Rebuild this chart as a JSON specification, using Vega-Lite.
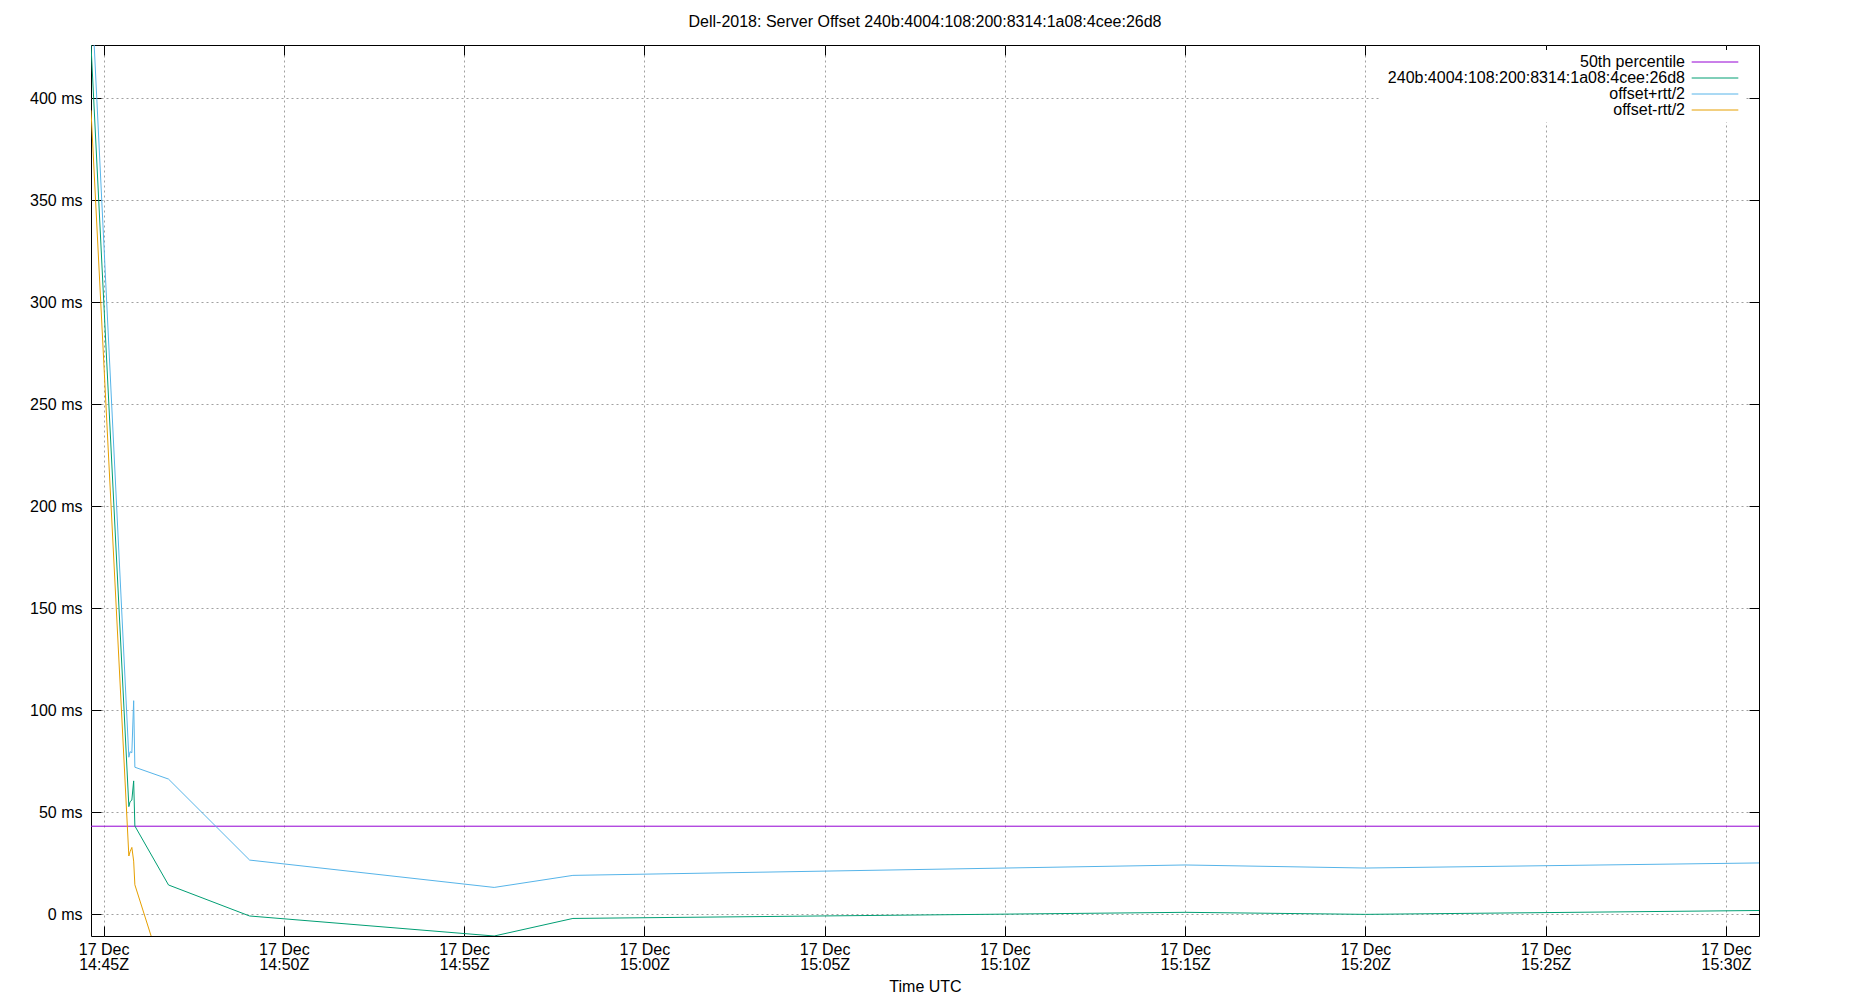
{
  "$schema": "https://vega.github.io/schema/vega-lite/v6.json",
  "width": 1668,
  "height": 891,
  "autosize": {"type": "none"},
  "padding": {"left": 91, "top": 45, "right": 91, "bottom": 64},
  "title": {
    "text": "Dell-2018: Server Offset 240b:4004:108:200:8314:1a08:4cee:26d8",
    "font": "Liberation Sans",
    "fontSize": 16,
    "fontWeight": "normal",
    "color": "#000",
    "frame": "group",
    "anchor": "middle",
    "offset": 15
  },
  "datasets": {
    "samples": [
      {"time": "2023-12-17T14:44:39Z", "series": "240b:4004:108:200:8314:1a08:4cee:26d8", "ms": 426},
      {"time": "2023-12-17T14:45:42Z", "series": "240b:4004:108:200:8314:1a08:4cee:26d8", "ms": 52.8},
      {"time": "2023-12-17T14:45:44Z", "series": "240b:4004:108:200:8314:1a08:4cee:26d8", "ms": 55.2},
      {"time": "2023-12-17T14:45:47Z", "series": "240b:4004:108:200:8314:1a08:4cee:26d8", "ms": 56.0},
      {"time": "2023-12-17T14:45:50Z", "series": "240b:4004:108:200:8314:1a08:4cee:26d8", "ms": 65.4},
      {"time": "2023-12-17T14:45:52Z", "series": "240b:4004:108:200:8314:1a08:4cee:26d8", "ms": 43.3},
      {"time": "2023-12-17T14:46:48Z", "series": "240b:4004:108:200:8314:1a08:4cee:26d8", "ms": 14.4},
      {"time": "2023-12-17T14:49:03Z", "series": "240b:4004:108:200:8314:1a08:4cee:26d8", "ms": -0.8},
      {"time": "2023-12-17T14:55:50Z", "series": "240b:4004:108:200:8314:1a08:4cee:26d8", "ms": -10.6},
      {"time": "2023-12-17T14:58:01Z", "series": "240b:4004:108:200:8314:1a08:4cee:26d8", "ms": -2.0},
      {"time": "2023-12-17T15:15:00Z", "series": "240b:4004:108:200:8314:1a08:4cee:26d8", "ms": 1.0},
      {"time": "2023-12-17T15:20:00Z", "series": "240b:4004:108:200:8314:1a08:4cee:26d8", "ms": 0.0},
      {"time": "2023-12-17T15:30:55Z", "series": "240b:4004:108:200:8314:1a08:4cee:26d8", "ms": 1.9},
      {"time": "2023-12-17T14:44:39Z", "series": "offset+rtt/2", "ms": 458},
      {"time": "2023-12-17T14:45:42Z", "series": "offset+rtt/2", "ms": 77.0},
      {"time": "2023-12-17T14:45:44Z", "series": "offset+rtt/2", "ms": 79.7},
      {"time": "2023-12-17T14:45:47Z", "series": "offset+rtt/2", "ms": 79.2},
      {"time": "2023-12-17T14:45:50Z", "series": "offset+rtt/2", "ms": 104.7},
      {"time": "2023-12-17T14:45:52Z", "series": "offset+rtt/2", "ms": 72.1},
      {"time": "2023-12-17T14:46:48Z", "series": "offset+rtt/2", "ms": 66.3},
      {"time": "2023-12-17T14:49:03Z", "series": "offset+rtt/2", "ms": 26.6},
      {"time": "2023-12-17T14:55:50Z", "series": "offset+rtt/2", "ms": 13.2},
      {"time": "2023-12-17T14:58:01Z", "series": "offset+rtt/2", "ms": 19.1},
      {"time": "2023-12-17T15:15:00Z", "series": "offset+rtt/2", "ms": 24.2},
      {"time": "2023-12-17T15:20:00Z", "series": "offset+rtt/2", "ms": 22.7},
      {"time": "2023-12-17T15:30:55Z", "series": "offset+rtt/2", "ms": 25.2},
      {"time": "2023-12-17T14:44:39Z", "series": "offset-rtt/2", "ms": 394},
      {"time": "2023-12-17T14:45:42Z", "series": "offset-rtt/2", "ms": 28.6},
      {"time": "2023-12-17T14:45:44Z", "series": "offset-rtt/2", "ms": 30.7},
      {"time": "2023-12-17T14:45:47Z", "series": "offset-rtt/2", "ms": 32.8},
      {"time": "2023-12-17T14:45:50Z", "series": "offset-rtt/2", "ms": 26.1},
      {"time": "2023-12-17T14:45:52Z", "series": "offset-rtt/2", "ms": 14.5},
      {"time": "2023-12-17T14:46:48Z", "series": "offset-rtt/2", "ms": -37.5},
      {"time": "2023-12-17T14:49:03Z", "series": "offset-rtt/2", "ms": -28.2},
      {"time": "2023-12-17T14:55:50Z", "series": "offset-rtt/2", "ms": -34.4},
      {"time": "2023-12-17T14:58:01Z", "series": "offset-rtt/2", "ms": -23.1},
      {"time": "2023-12-17T15:15:00Z", "series": "offset-rtt/2", "ms": -22.2},
      {"time": "2023-12-17T15:20:00Z", "series": "offset-rtt/2", "ms": -22.7},
      {"time": "2023-12-17T15:30:55Z", "series": "offset-rtt/2", "ms": -21.4}
    ],
    "percentile": [
      {"series": "50th percentile", "ms": 43.2}
    ]
  },
  "layer": [
    {
      "data": {"name": "percentile"},
      "mark": {"type": "rule", "strokeWidth": 1},
      "encoding": {
        "y": {
          "field": "ms",
          "type": "quantitative",
          "scale": {"domain": [-10.6, 426], "nice": false, "zero": false},
          "axis": {
            "orient": "right",
            "labels": false,
            "grid": false,
            "title": null,
            "values": [0, 50, 100, 150, 200, 250, 300, 350, 400]
          }
        },
        "color": {
          "field": "series",
          "type": "nominal",
          "scale": {
            "domain": ["50th percentile", "240b:4004:108:200:8314:1a08:4cee:26d8", "offset+rtt/2", "offset-rtt/2"],
            "range": ["#9400d3", "#009e73", "#56b4e9", "#e69f00"]
          },
          "legend": {"title": null}
        }
      }
    },
    {
      "data": {"name": "samples"},
      "mark": {"type": "line", "clip": true, "strokeWidth": 1},
      "encoding": {
        "x": {
          "field": "time",
          "type": "temporal",
          "scale": {"type": "utc", "nice": false},
          "axis": {
            "orient": "bottom",
            "title": "Time UTC",
            "grid": true,
            "values": [
              {"year": 2023, "month": 12, "date": 17, "hours": 14, "minutes": 45, "utc": true},
              {"year": 2023, "month": 12, "date": 17, "hours": 14, "minutes": 50, "utc": true},
              {"year": 2023, "month": 12, "date": 17, "hours": 14, "minutes": 55, "utc": true},
              {"year": 2023, "month": 12, "date": 17, "hours": 15, "minutes": 0, "utc": true},
              {"year": 2023, "month": 12, "date": 17, "hours": 15, "minutes": 5, "utc": true},
              {"year": 2023, "month": 12, "date": 17, "hours": 15, "minutes": 10, "utc": true},
              {"year": 2023, "month": 12, "date": 17, "hours": 15, "minutes": 15, "utc": true},
              {"year": 2023, "month": 12, "date": 17, "hours": 15, "minutes": 20, "utc": true},
              {"year": 2023, "month": 12, "date": 17, "hours": 15, "minutes": 25, "utc": true},
              {"year": 2023, "month": 12, "date": 17, "hours": 15, "minutes": 30, "utc": true}
            ],
            "labelExpr": "[utcFormat(datum.value, '%d %b'), utcFormat(datum.value, '%H:%MZ')]",
            "labelLineHeight": 15.5,
            "labelPadding": 15,
            "titlePadding": 6
          }
        },
        "y": {
          "field": "ms",
          "type": "quantitative",
          "axis": {
            "orient": "left",
            "title": null,
            "grid": true,
            "values": [0, 50, 100, 150, 200, 250, 300, 350, 400],
            "labelExpr": "datum.value + ' ms'",
            "labelPadding": 19
          }
        },
        "color": {"field": "series", "type": "nominal"}
      }
    },
    {
      "data": {"name": "samples"},
      "mark": {"type": "point", "opacity": 0, "clip": true},
      "encoding": {
        "x": {
          "field": "time",
          "type": "temporal",
          "axis": {
            "orient": "top",
            "labels": false,
            "grid": false,
            "title": null,
            "values": [
              {"year": 2023, "month": 12, "date": 17, "hours": 14, "minutes": 45, "utc": true},
              {"year": 2023, "month": 12, "date": 17, "hours": 14, "minutes": 50, "utc": true},
              {"year": 2023, "month": 12, "date": 17, "hours": 14, "minutes": 55, "utc": true},
              {"year": 2023, "month": 12, "date": 17, "hours": 15, "minutes": 0, "utc": true},
              {"year": 2023, "month": 12, "date": 17, "hours": 15, "minutes": 5, "utc": true},
              {"year": 2023, "month": 12, "date": 17, "hours": 15, "minutes": 10, "utc": true},
              {"year": 2023, "month": 12, "date": 17, "hours": 15, "minutes": 15, "utc": true},
              {"year": 2023, "month": 12, "date": 17, "hours": 15, "minutes": 20, "utc": true},
              {"year": 2023, "month": 12, "date": 17, "hours": 15, "minutes": 25, "utc": true},
              {"year": 2023, "month": 12, "date": 17, "hours": 15, "minutes": 30, "utc": true}
            ]
          }
        },
        "y": {"field": "ms", "type": "quantitative", "axis": null}
      }
    }
  ],
  "resolve": {"axis": {"x": "independent", "y": "independent"}},
  "config": {
    "background": "#ffffff",
    "view": {"stroke": "#000000", "strokeWidth": 1},
    "axis": {
      "domain": false,
      "tickSize": -10,
      "tickColor": "#000000",
      "tickWidth": 1,
      "labelFont": "Liberation Sans",
      "labelFontSize": 16,
      "labelColor": "#000000",
      "titleFont": "Liberation Sans",
      "titleFontSize": 16,
      "titleFontWeight": "normal",
      "titleColor": "#000000",
      "gridColor": "#a0a0a0",
      "gridDash": [2, 3],
      "gridWidth": 1
    },
    "legend": {
      "orient": "none",
      "legendX": 1289,
      "legendY": 5,
      "fillColor": "#ffffff",
      "padding": 4,
      "labelFont": "Liberation Sans",
      "labelFontSize": 16,
      "labelColor": "#000000",
      "labelLimit": 600,
      "labelAlign": "right",
      "labelOffset": -38,
      "symbolType": "M-4,0H4",
      "symbolSize": 136,
      "symbolStrokeWidth": 1,
      "symbolOffset": 323,
      "rowPadding": -1
    }
  }
}
